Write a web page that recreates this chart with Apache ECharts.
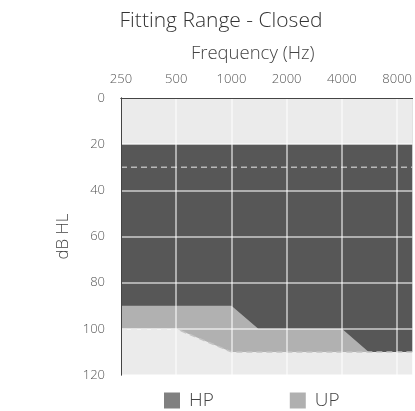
<!DOCTYPE html>
<html>
<head>
<meta charset="utf-8">
<script src="https://cdn.jsdelivr.net/npm/echarts@6/dist/echarts.min.js"></script>
<style>
html,body{margin:0;padding:0;background:#fff;}
#c{width:415px;height:411px;}
</style>
</head>
<body>
<div id="c"></div>
<script>
// ---- data ----
const titleText = 'Fitting Range - Closed';
const xAxisName = 'Frequency (Hz)';
const yAxisName = 'dB HL';
const freqTicks = [250, 500, 1000, 2000, 4000, 8000];
const freqMin = 250;
const freqMax = 9700;           // right edge of plot
const dbTicks = [0, 20, 40, 60, 80, 100, 120];
const topLimit = 20;            // upper edge of fitting range (dB HL)
const dashedLevel = 30;         // dashed reference line (dB HL)
const hpFreq = [250, 1000, 1400, 4000, 5600, 9700];
const hpLevel = [90, 90, 100, 100, 110, 110];
const upFreq = [250, 500, 1000, 9700];
const upLevel = [100, 100, 110, 110];
const legendNames = ['HP', 'UP'];
const legendColors = ['#808080', '#b0b0b0'];

// octave scale helper (log2 relative to 250 Hz)
const oct = f => Math.log2(f / freqMin);
const pairs = (fs, ls) => fs.map((f, i) => [oct(f), ls[i]]);

const font = "'Open Sans', 'Lato', sans-serif";
const chart = echarts.init(document.getElementById('c'));
chart.setOption({
  animation: false,
  title: {
    text: titleText,
    left: 216, top: 6, textAlign: 'center',
    textStyle: {fontFamily: font, fontWeight: 300, fontSize: 21, color: '#333'}
  },
  legend: {
    data: legendNames.map((n, i) => ({name: n, itemStyle: {color: legendColors[i]}})),
    left: 159, top: 386,
    itemWidth: 16, itemHeight: 16, itemGap: 76,
    icon: 'rect',
    textStyle: {fontFamily: font, fontWeight: 300, fontSize: 19, color: '#444', padding: [0,0,0,4]}
  },
  grid: {
    left: 121, top: 98, right: 2, bottom: 36,
    show: true, backgroundColor: '#ebebeb', borderWidth: 0
  },
  xAxis: [{
    type: 'value', position: 'top', min: 0, max: oct(freqMax), interval: 1, z: 10,
    name: xAxisName, nameLocation: 'middle', nameGap: 35,
    nameTextStyle: {fontFamily: font, fontWeight: 300, fontSize: 18.5, color: '#444', padding: [0, 28, 0, 0]},
    axisLine: {show: true, lineStyle: {color: '#444', width: 1}},
    axisTick: {show: false},
    axisLabel: {
      margin: 12, showMaxLabel: false, fontFamily: font, fontWeight: 300, fontSize: 13, color: '#555',
      formatter: v => { const f = freqMin * Math.pow(2, v); const t = freqTicks.find(x => Math.abs(x - f) < 1); return t ? String(t) : ''; }
    },
    splitLine: {show: true, lineStyle: {color: 'rgba(255,255,255,0.7)', width: 1.5}}
  }, {
    type: 'value', position: 'bottom', min: 0, max: oct(freqMax), z: 10,
    axisLine: {show: true, lineStyle: {color: '#444', width: 1}},
    axisTick: {show: false}, axisLabel: {show: false}, splitLine: {show: false}
  }],
  yAxis: [{
    type: 'value', inverse: true, min: dbTicks[0], max: dbTicks[dbTicks.length - 1], interval: 20, z: 10,
    name: yAxisName, nameLocation: 'middle', nameGap: 49, nameRotate: 90,
    nameTextStyle: {fontFamily: font, fontWeight: 300, fontSize: 17, color: '#444'},
    axisLine: {show: true, lineStyle: {color: '#444', width: 1}},
    axisTick: {show: false},
    axisLabel: {margin: 16, fontFamily: font, fontWeight: 300, fontSize: 13, color: '#555'},
    splitLine: {show: true, lineStyle: {color: 'rgba(255,255,255,0.7)', width: 1.5}}
  }, {
    type: 'value', position: 'right', inverse: true, min: 0, max: 120, z: 10,
    axisLine: {show: true, lineStyle: {color: '#444', width: 1}},
    axisTick: {show: false}, axisLabel: {show: false}, splitLine: {show: false}
  }],
  series: [
    {
      name: 'UP', type: 'line', data: pairs(upFreq, upLevel), symbol: 'none', silent: true,
      itemStyle: {color: legendColors[1]},
      lineStyle: {width: 0},
      areaStyle: {color: '#b1b1b1', opacity: 1, origin: 'start'}
    },
    {
      name: 'HP', type: 'line', data: pairs(hpFreq, hpLevel), symbol: 'none', silent: true,
      itemStyle: {color: legendColors[0]},
      lineStyle: {width: 0},
      areaStyle: {color: '#575757', opacity: 1, origin: 'start'}
    },
    {
      name: 'top', type: 'line', data: [[oct(freqMin), topLimit], [oct(freqMax), topLimit]],
      symbol: 'none', silent: true,
      lineStyle: {width: 0},
      areaStyle: {color: '#ebebeb', opacity: 1, origin: 'start'}
    },
    {
      name: 'UPline', type: 'line', data: pairs(upFreq, upLevel), symbol: 'none', silent: true,
      lineStyle: {color: '#c4c4c4', width: 1.5, type: [6, 4]}
    },
    {
      name: 'ref', type: 'line', data: [[oct(freqMin), dashedLevel], [oct(freqMax), dashedLevel]],
      symbol: 'none', silent: true,
      lineStyle: {color: '#b8b8b8', width: 1.5, type: [6, 4]}
    }
  ]
});
</script>
</body>
</html>
